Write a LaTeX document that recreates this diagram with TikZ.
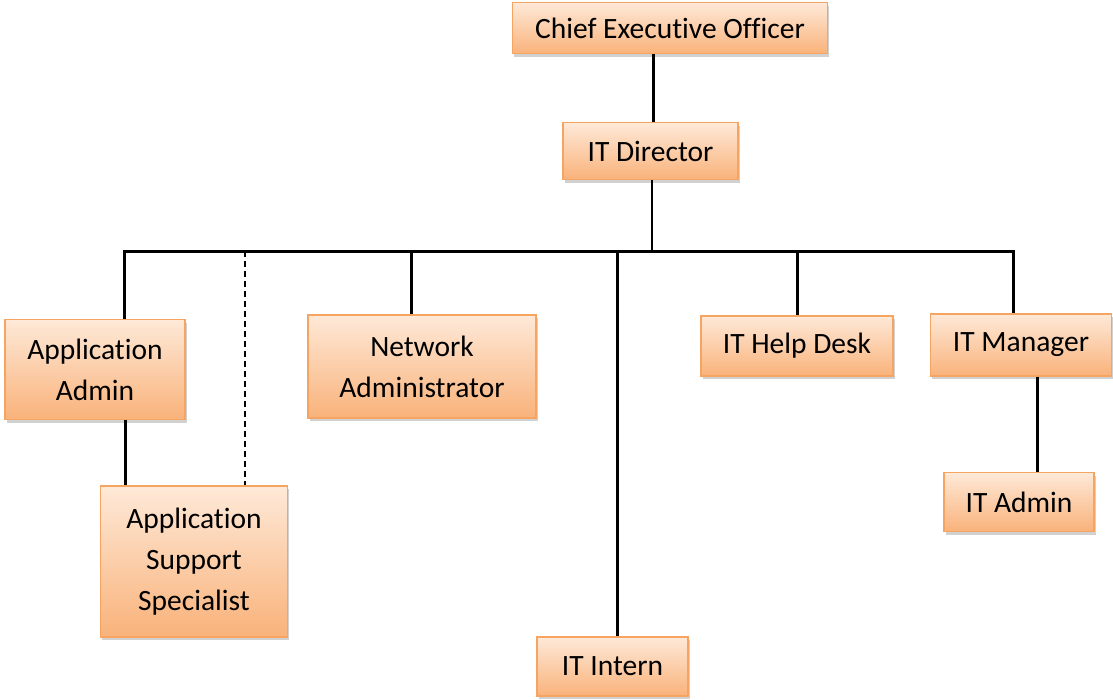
\documentclass[tikz,border=0pt]{standalone}
\usepackage{fontspec}
\setmainfont{Carlito}[Ligatures=NoCommon]
\usetikzlibrary{shadows}
\definecolor{boxtop}{HTML}{FEE9D8}
\definecolor{boxbot}{HTML}{F9B27A}
\definecolor{boxline}{HTML}{F5A461}
\tikzset{
  orgbox/.style={draw=boxline, line width=1.4pt, top color=boxtop, bottom color=boxbot,
    align=center, inner sep=0pt, font=\fontsize{29.5}{41}\selectfont,
    drop shadow={shadow xshift=1.5pt, shadow yshift=-3pt, opacity=0.3, fill=black!60}},
  link/.style={line width=3pt, black},
  thinlink/.style={line width=2.2pt, black},
  dashlink/.style={line width=1.8pt, black, dash pattern=on 6pt off 4pt}
}
\begin{document}
\begin{tikzpicture}[x=1pt,y=-1pt]
\useasboundingbox (0,0) rectangle (1113,699);
\node[orgbox, minimum width=315pt, minimum height=51pt] (ceo) at (670,28) {Chief Executive Officer};
\node[orgbox, minimum width=175pt, minimum height=57pt] (dir) at (650.5,151) {IT Director};
\node[orgbox, minimum width=180pt, minimum height=100pt] (aa) at (95,369.5) {Application\\Admin};
\node[orgbox, minimum width=187pt, minimum height=151pt] (ass) at (194,561.5) {Application\\Support\\Specialist};
\node[orgbox, minimum width=228pt, minimum height=103pt] (na) at (422,366.5) {Network\\Administrator};
\node[orgbox, minimum width=151pt, minimum height=59pt] (intern) at (612.5,666.5) {IT Intern};
\node[orgbox, minimum width=192pt, minimum height=60pt] (hd) at (797,346) {IT Help Desk};
\node[orgbox, minimum width=181pt, minimum height=62pt] (mgr) at (1021,345) {IT Manager};
\node[orgbox, minimum width=150pt, minimum height=59pt] (adm) at (1019,502) {IT Admin};

\coordinate (j) at (652,251);
\coordinate (bl) at (124,251);
\coordinate (bd) at (245,251);
\coordinate (bn) at (411,251);
\coordinate (bi) at (617,251);
\coordinate (bh) at (797,251);
\coordinate (br) at (1013,251);
\coordinate (xa) at (125.5,0);
\coordinate (xm) at (1037,0);

\draw[link] (ceo.south -| 653,0) -- (dir.north -| 653,0);
\draw[thinlink] (dir.south -| j) -- (j);
\draw[link] ([xshift=-1.5pt]bl) -- ([xshift=1.5pt]br);
\draw[link] (bl) -- (aa.north -| bl);
\draw[dashlink] (bd) -- (ass.north -| bd);
\draw[link] (bn) -- (na.north -| bn);
\draw[link] (bi) -- (intern.north -| bi);
\draw[link] (bh) -- (hd.north -| bh);
\draw[link] (br) -- (mgr.north -| br);
\draw[link] (aa.south -| xa) -- (ass.north -| xa);
\draw[link] (mgr.south -| xm) -- (adm.north -| xm);
\end{tikzpicture}
\end{document}
